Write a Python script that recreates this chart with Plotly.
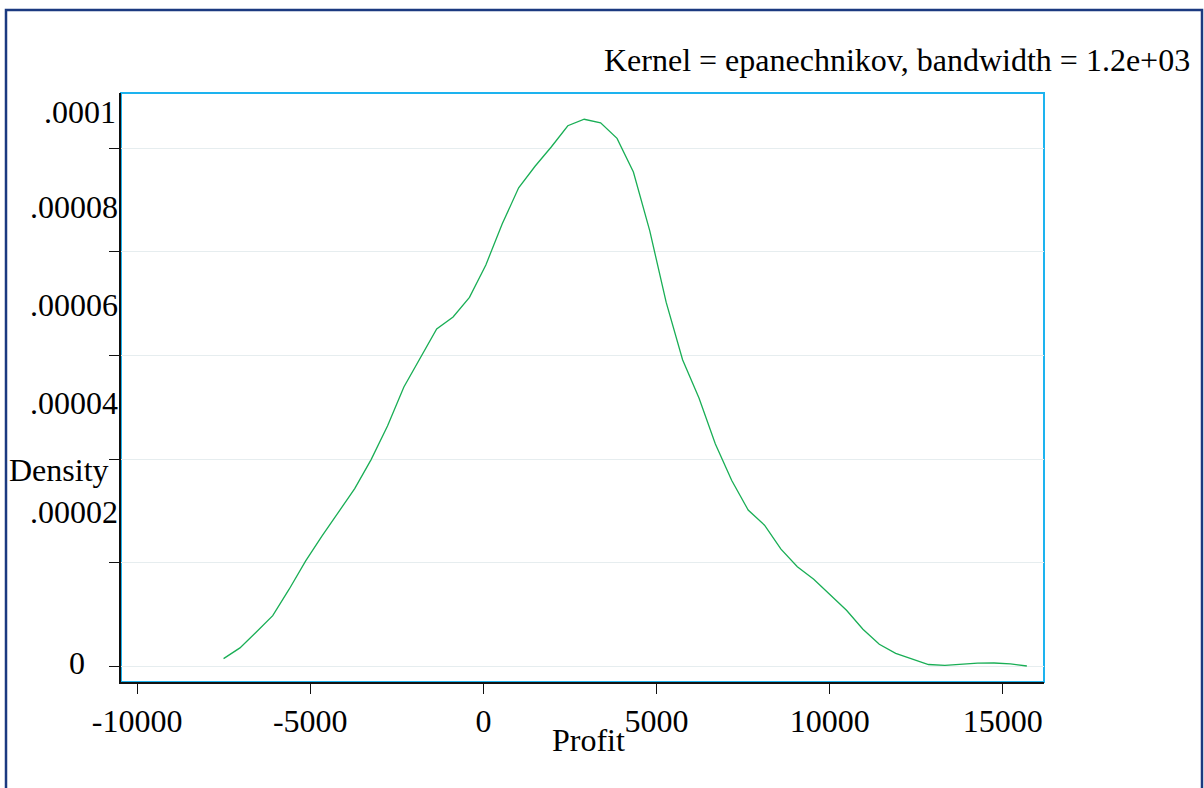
import plotly.graph_objects as go

# Kernel density estimate of Profit (50 evaluation points)
profit = [-7503, -7030, -6556, -6083, -5609, -5136, -4663, -4189, -3716, -3242,
          -2769, -2296, -1822, -1349, -875, -402, 71, 545, 1018, 1492,
          1965, 2438, 2912, 3385, 3859, 4332, 4805, 5279, 5752, 6226,
          6699, 7172, 7646, 8119, 8593, 9066, 9539, 10013, 10486, 10960,
          11433, 11906, 12380, 12853, 13327, 13800, 14273, 14747, 15220, 15694]
density_e6 = [1.43, 3.50, 6.56, 9.73, 14.84, 20.25, 25.09, 29.73, 34.27, 39.88,
              46.36, 53.91, 59.54, 65.13, 67.45, 71.24, 77.50, 85.44, 92.40, 96.56,
              100.33, 104.39, 105.65, 104.97, 101.95, 95.44, 84.08, 70.25, 59.17, 51.78,
              42.88, 35.84, 30.15, 27.21, 22.57, 19.19, 16.77, 13.68, 10.77, 7.10,
              4.20, 2.46, 1.33, 0.29, 0.14, 0.37, 0.56, 0.58, 0.41, 0.00]
density = [v * 1e-6 for v in density_e6]

x_ticks = [-10000, -5000, 0, 5000, 10000, 15000]
x_tick_text = ["-10000", "-5000", "0", "5000", "10000", "15000"]
y_ticks = [0, 0.00002, 0.00004, 0.00006, 0.00008, 0.0001]
y_tick_text = ["0", ".00002", ".00004", ".00006", ".00008", ".0001"]
# the reference draws its y labels displaced above/left of their ticks
y_label_pos = [0.0000005, 0.0000298, 0.0000509, 0.0000697, 0.0000886, 0.0001071]
y_label_px = [87, 120, 120, 120, 120, 118]

subtitle = "Kernel = epanechnikov, bandwidth = 1.2e+03"
x_title = "Profit"
y_title = "Density"

FONT = "Liberation Serif"
FS = 32

fig = go.Figure()
fig.add_trace(go.Scatter(x=profit, y=density, mode="lines",
                         line=dict(color="#19ae55", width=1.3),
                         hoverinfo="skip", showlegend=False))

W, H = 1204, 788
L, R, T, B = 121, 160, 93, 106
pw, ph = W - L - R, H - T - B

def px_x(p):
    return (p - L) / pw

def px_y(p):
    return (H - B - p) / ph

fig.update_layout(
    width=W, height=H,
    margin=dict(l=L, r=R, t=T, b=B),
    paper_bgcolor="white", plot_bgcolor="white",
    font=dict(family=FONT, size=FS, color="black"),
    xaxis=dict(range=[-10465, 16189], tickvals=x_ticks, ticktext=x_tick_text,
               showgrid=False, zeroline=False, showline=True, linecolor="#111111",
               linewidth=1.5, ticks="outside", ticklen=10, tickwidth=1.3,
               tickcolor="#111111", tickfont=dict(family=FONT, size=FS), fixedrange=True),
    yaxis=dict(range=[-0.00000309, 0.00011072], tickvals=y_ticks, showticklabels=False,
               showgrid=True, gridcolor="#e6edef", gridwidth=1.3, zeroline=False,
               showline=True, linecolor="#111111", linewidth=1.5, ticks="outside",
               ticklen=10, tickwidth=1.3, tickcolor="#111111", fixedrange=True),
)

annotations = []
for lab, pos, xp in zip(y_tick_text, y_label_pos, y_label_px):
    annotations.append(dict(x=px_x(xp), y=pos, xref="paper", yref="y", text=lab,
                            showarrow=False, xanchor="right", yanchor="middle",
                            font=dict(family=FONT, size=FS)))
annotations.append(dict(x=px_x(7), y=px_y(470), xref="paper", yref="paper", text=y_title,
                        showarrow=False, xanchor="left", yanchor="middle",
                        font=dict(family=FONT, size=FS)))
annotations.append(dict(x=px_x(588), y=px_y(740), xref="paper", yref="paper", text=x_title,
                        showarrow=False, xanchor="center", yanchor="middle",
                        font=dict(family=FONT, size=FS)))
annotations.append(dict(x=px_x(1192), y=px_y(60), xref="paper", yref="paper", text=subtitle,
                        showarrow=False, xanchor="right", yanchor="middle",
                        font=dict(family=FONT, size=FS)))
fig.update_layout(annotations=annotations)

shapes = [
    # plot region frame (top/right in cyan)
    dict(type="rect", xref="paper", yref="paper", x0=0, x1=1, y0=0, y1=1,
         line=dict(color="#1db3ef", width=2), layer="below"),
    # outer frame
    dict(type="rect", xref="paper", yref="paper", x0=px_x(6), x1=px_x(1202),
         y0=px_y(820), y1=px_y(10), line=dict(color="#1b3a80", width=2.5)),
]
fig.update_layout(shapes=shapes)

fig.write_html("out.html", config={"displayModeBar": False},
               post_script="document.body.style.margin='0px';document.body.style.overflow='hidden';")
